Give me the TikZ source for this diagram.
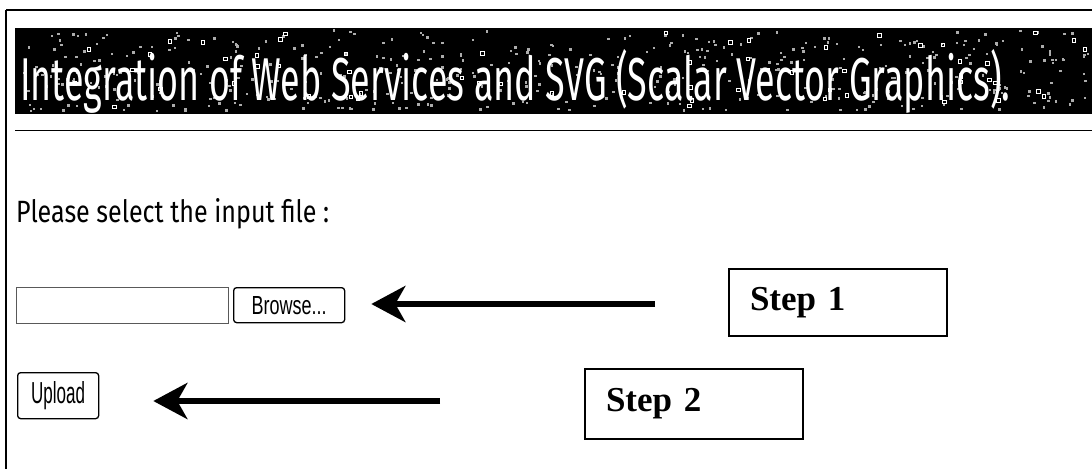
\documentclass[tikz,border=0pt]{standalone}
\usepackage{fontspec}
\setmainfont{Liberation Serif}
\newfontfamily\comicf{Fira Sans}
\newfontfamily\btnf{Liberation Sans}
\usetikzlibrary{arrows.meta}
\begin{document}
\begin{tikzpicture}[x=1pt,y=-1pt,
  stepbox/.style={draw=black, line width=2pt, text width=218pt, inner xsep=0pt, inner ysep=0pt, align=left,
                  font=\bfseries\fontsize{35}{35}\selectfont},
  btn/.style={draw=black, line width=1.3pt, rounded corners=3pt, inner sep=0pt},
  bigarrow/.style={line width=6pt, -{Stealth[length=34pt,width=36pt,inset=10pt]}},
  speck/.style={fill=gray!65},
  ]
\useasboundingbox (0,0) rectangle (1092,469);
% page frame
\draw[line width=2pt] (6,10) -- (1092,10);
\draw[line width=2.5pt] (6,10) -- (6,469);
% banner
\node[fill=black, anchor=north west, minimum width=1077pt, minimum height=86pt, inner sep=0pt] (banner) at (15,28) {};
\pgfmathsetseed{12}
\foreach \i in {1,...,450}{
  \pgfmathsetmacro\xx{16+rnd*1072}
  \pgfmathsetmacro\yy{29+rnd*81}
  \fill[speck] (\xx,\yy) rectangle ++(2.5,2.5);
}
\foreach \i in {1,...,60}{
  \pgfmathsetmacro\xx{18+rnd*1065}
  \pgfmathsetmacro\yy{30+rnd*75}
  \draw[white, line width=0.6pt] (\xx,\yy) rectangle ++(3.5,3.5);
}
\node[anchor=north west, text=white, inner sep=0pt] (title) at (20,49)
  {\resizebox*{990pt}{64pt}{\comicf Integration of Web Services and SVG (Scalar Vector Graphics).}};
% rule under banner
\draw[line width=1pt] (15,130) -- (1092,130);
% prompt
\node[anchor=base west, inner sep=0pt] (prompt) at (16,222)
  {\resizebox{313pt}{24pt}{\comicf Please select the input file :}};
% input field and buttons
\node[draw=gray!70!black, line width=1pt, anchor=north west, minimum width=212pt, minimum height=36pt, inner sep=0pt] (field) at (16,287) {};
\node[btn, anchor=north west, minimum width=111pt, minimum height=35pt] (browse) at (233,287)
  {\resizebox{75pt}{18pt}{\btnf Browse...}};
\node[btn, anchor=north west, minimum width=81pt, minimum height=46pt] (upload) at (17,372)
  {\resizebox{54pt}{22pt}{\btnf Upload}};
% step boxes
\node[stepbox, anchor=north west, minimum height=67pt] (step1) at (728,268)
  {\hspace*{21pt}\raisebox{-3pt}{Step 1}};
\node[stepbox, anchor=north west, minimum height=70pt] (step2) at (584,368)
  {\hspace*{21pt}\raisebox{-3pt}{Step 2}};
% arrows
\coordinate (t1) at (655,304);
\coordinate (t2) at (440,401);
\draw[bigarrow, shorten >=26pt] (t1) -- (browse.east |- t1);
\draw[bigarrow, shorten >=54pt] (t2) -- (upload.east |- t2);
\end{tikzpicture}
\end{document}
